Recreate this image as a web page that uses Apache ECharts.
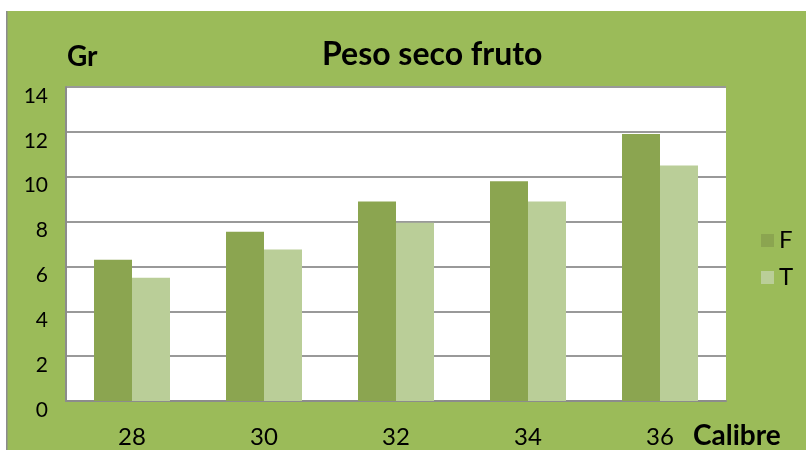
<!DOCTYPE html>
<html>
<head>
<meta charset="utf-8">
<script src="https://cdn.jsdelivr.net/npm/echarts@6/dist/echarts.min.js"></script>
<style>
  html, body { margin: 0; padding: 0; background: #fff; }
  #chart { width: 806px; height: 450px; }
</style>
</head>
<body>
<div id="chart"></div>
<script>
// values (grams of dry weight per fruit, by calibre)
const calibres = ['28', '30', '32', '34', '36'];
const serieF = [6.3, 7.55, 8.9, 9.8, 11.9];
const serieT = [5.5, 6.75, 7.95, 8.9, 10.5];
const yTicks = { min: 0, max: 14, step: 2 };

const font = 'Lato, "Noto Sans", sans-serif';

const chart = echarts.init(document.getElementById('chart'));

const option = {
  backgroundColor: '#ffffff',
  animation: false,
  graphic: [
    // green chart panel with a thin grey left edge
    { type: 'rect', left: 7, top: 11, shape: { width: 800, height: 440 },
      style: { fill: '#9BBB59' }, z: -10 },
    { type: 'rect', left: 6, top: 11, shape: { width: 1.5, height: 440 },
      style: { fill: '#8c8c8c' }, z: -9 }
  ],
  title: {
    text: 'Peso seco fruto',
    left: 317,
    top: 34,
    textStyle: { fontFamily: font, fontWeight: 'bold', fontSize: 32, color: '#000' }
  },
  legend: {
    orient: 'vertical',
    left: 761,
    top: 225,
    padding: 0,
    itemWidth: 13,
    itemHeight: 13,
    itemGap: 6,
    icon: 'rect',
    textStyle: { fontFamily: font, fontSize: 24, color: '#000', lineHeight: 13, padding: [18, 0, 0, 0] },
    data: ['F', 'T']
  },
  grid: {
    left: 66,
    right: 80,
    top: 87,
    bottom: 49,
    show: true,
    backgroundColor: '#ffffff',
    borderWidth: 0
  },
  xAxis: {
    type: 'category',
    data: calibres,
    name: 'Calibre',
    nameLocation: 'end',
    nameGap: -33,
    nameTextStyle: {
      fontFamily: font, fontWeight: 'bold', fontSize: 28, color: '#000',
      align: 'left', verticalAlign: 'top', padding: [21, 0, 0, 0]
    },
    axisLine: { show: true, lineStyle: { color: '#8c8c8c', width: 2 } },
    axisTick: { show: false },
    axisLabel: { fontFamily: font, fontSize: 24, lineHeight: 24, color: '#000', margin: 24 }
  },
  yAxis: {
    type: 'value',
    min: yTicks.min,
    max: yTicks.max,
    interval: yTicks.step,
    name: 'Gr',
    nameLocation: 'end',
    nameGap: 16,
    nameTextStyle: {
      fontFamily: font, fontWeight: 'bold', fontSize: 28, color: '#000',
      align: 'left', padding: [0, 0, 0, 1]
    },
    axisLine: { show: true, lineStyle: { color: '#8c8c8c', width: 2 } },
    axisTick: { show: false },
    axisLabel: {
      fontFamily: font, fontSize: 21, color: '#000', margin: 18,
      verticalAlign: 'top', lineHeight: 18
    },
    splitLine: { show: true, lineStyle: { color: '#999999', width: 2 } }
  },
  series: [
    {
      name: 'F',
      type: 'bar',
      data: serieF,
      barWidth: 38,
      barGap: '0%',
      itemStyle: { color: '#8BA550' }
    },
    {
      name: 'T',
      type: 'bar',
      data: serieT,
      barWidth: 38,
      itemStyle: { color: '#BACE98' }
    }
  ]
};

chart.setOption(option);
</script>
</body>
</html>
